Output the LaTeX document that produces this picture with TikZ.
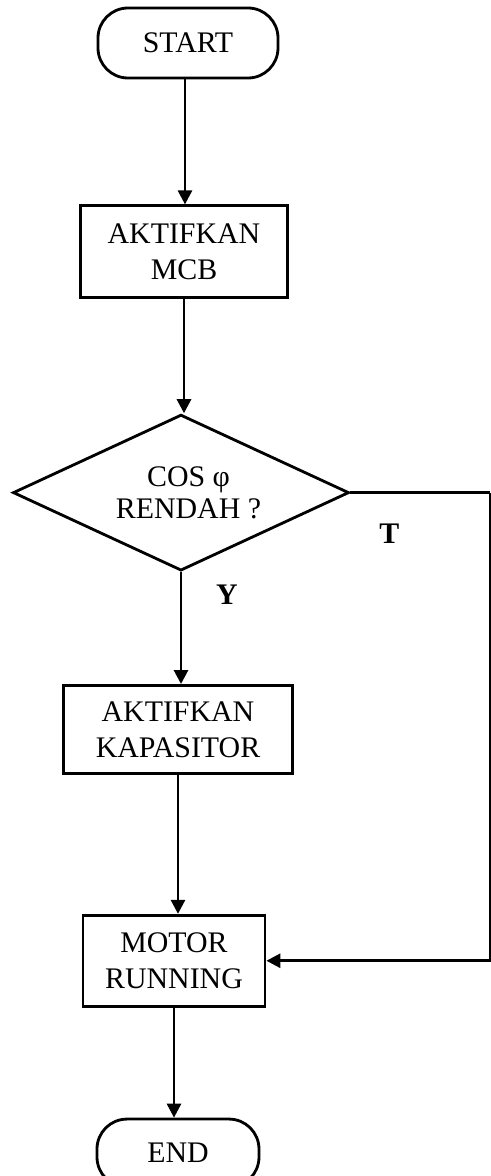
\documentclass[tikz,border=0pt]{standalone}
\usepackage{fontspec}
\setmainfont{Liberation Serif}
\usetikzlibrary{positioning,arrows.meta,shapes.geometric}
\newcommand{\flowfont}{\fontsize{17}{20.5}\selectfont}

\begin{document}
\begin{tikzpicture}[
    term/.style={draw, line width=1.6pt, rounded corners=0.6cm, align=center,
      font=\flowfont, inner sep=0pt},
    proc/.style={draw, line width=1.6pt, align=center, font=\flowfont, inner sep=0pt},
    decide/.style={draw, diamond, aspect=2.15, line width=1.6pt, align=center,
      font=\fontsize{17}{18}\selectfont, inner sep=0pt,
      minimum width=6.72cm, minimum height=3.12cm},
    arrow/.style={-{Triangle[length=0.28cm,width=0.28cm]}, line width=1.6pt},
    line/.style={line width=1.6pt},
    lbl/.style={font=\flowfont\bfseries}
  ]
    \useasboundingbox (-3.76,0.86) rectangle (6.06,-22.66);

    \node[term, minimum width=3.6cm, minimum height=1.4cm] (start) {START};

    \node[proc, below=2.5cm of start, xshift=-0.08cm,
      minimum width=4.14cm, minimum height=1.84cm] (mcb) {AKTIFKAN\\MCB};

    \node[decide, below=2.28cm of mcb, xshift=-0.06cm] (cosphi)
      {\hspace*{0.3cm}COS φ\\\hspace*{0.3cm}RENDAH ?};

    \node[proc, below=2.24cm of cosphi, xshift=-0.06cm,
      minimum width=4.58cm, minimum height=1.76cm] (kapasitor) {AKTIFKAN\\KAPASITOR};

    \node[proc, below=2.78cm of kapasitor, xshift=-0.08cm,
      minimum width=3.64cm, minimum height=1.82cm] (motor) {MOTOR\\RUNNING};

    \node[term, below=2.2cm of motor, xshift=0.08cm,
      minimum width=3.24cm, minimum height=1.36cm] (end) {END};

    \coordinate[right=2.8cm of cosphi.east] (turn);

    \node[lbl] (tlabel) at ([xshift=0.78cm, yshift=-0.82cm]cosphi.east) {T};
    \node[lbl] (ylabel) at ([xshift=0.92cm, yshift=-0.46cm]cosphi.south) {Y};

    \draw[arrow] ([xshift=-0.06cm]start.south) -- ([xshift=-0.06cm]start.south |- mcb.north);
    \draw[arrow] (mcb.south) -- (mcb.south |- cosphi.north);
    \draw[arrow] (cosphi.south) -- (cosphi.south |- kapasitor.north);
    \draw[arrow] (kapasitor.south) -- (kapasitor.south |- motor.north);
    \draw[arrow] (motor.south) -- (motor.south |- end.north);
    \draw[line] (cosphi.east) -- (turn);
    \draw[arrow] (turn) |- (motor.east);
  \end{tikzpicture}
\end{document}
